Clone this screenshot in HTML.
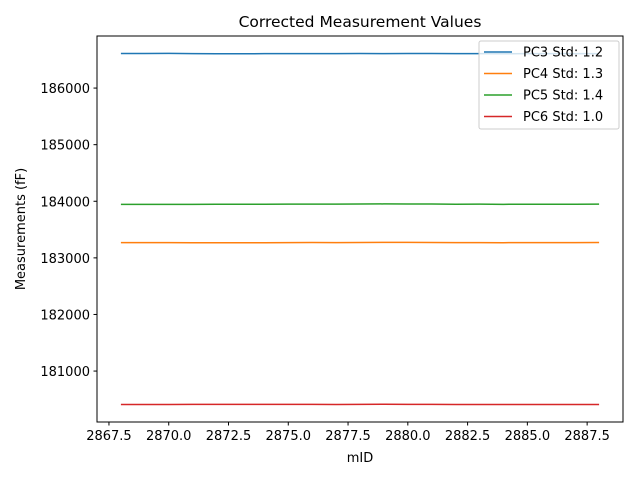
<!DOCTYPE html>
<html><head><meta charset="utf-8"><style>
body{margin:0;background:#fff}
svg text{font-family:"DejaVu Sans","Liberation Sans",sans-serif;fill:#000}
</style></head><body>
<svg width="640" height="480" xmlns="http://www.w3.org/2000/svg">
<rect width="640" height="480" fill="#fff"/>
<g id="plot"></g>
</svg>
<script>
const xs=[2868,2869,2870,2871,2872,2873,2874,2875,2876,2877,2878,2879,2880,2881,2882,2883,2884,2885,2886,2887,2888];
const pc3=[186610,186610,186612,186608,186606,186606,186608,186609,186608,186609,186610,186609,186610,186611,186609,186608,186607,186608,186609,186609,186609];
const pc4=[183270,183270,183269,183268,183267,183267,183268,183270,183271,183270,183272,183273,183273,183272,183270,183269,183268,183269,183270,183270,183272];
const pc5=[183945,183944,183945,183946,183947,183947,183948,183950,183950,183949,183951,183953,183952,183951,183948,183949,183946,183947,183948,183948,183950];
const pc6=[180410,180410,180410,180411,180412,180411,180411,180411,180411,180410,180411,180413,180412,180411,180409,180410,180410,180410,180410,180409,180410];
const seriesNames=["PC3 Std: 1.2","PC4 Std: 1.3","PC5 Std: 1.4","PC6 Std: 1.0"];
const xTicks=[2867.5,2870.0,2872.5,2875.0,2877.5,2880.0,2882.5,2885.0,2887.5];
const yTicks=[181000,182000,183000,184000,185000,186000];
const colors=["#1f77b4","#ff7f0e","#2ca02c","#d62728"];
const L=97,R=623,T=36,B=422;
const x0=2867,x1=2889,y0=180100,y1=186920;
const X=v=>L+(v-x0)/(x1-x0)*(R-L);
const Y=v=>B-(v-y0)/(y1-y0)*(B-T);
const NS="http://www.w3.org/2000/svg";
const g=document.getElementById('plot');
function mk(t,a,txt){const e=document.createElementNS(NS,t);for(const k in a)e.setAttribute(k,a[k]);if(txt!==undefined)e.textContent=txt;g.appendChild(e);return e;}
[pc3,pc4,pc5,pc6].forEach((s,i)=>{
 const p=mk('polyline',{points:s.map((v,j)=>X(xs[j])+','+Y(v)).join(' '),fill:'none',stroke:colors[i],'stroke-width':1.5});
 
 
});
const fr=mk('rect',{x:L,y:T,width:R-L,height:B-T,fill:'none',stroke:'#000','stroke-width':1});


xTicks.forEach(t=>{
 mk('line',{x1:X(t),x2:X(t),y1:B,y2:B+3.5,stroke:'#000'});
 const e=mk('text',{x:X(t),y:B+18,'font-size':13,'text-anchor':'middle'},t.toFixed(1));
 
 
});
yTicks.forEach(t=>{
 mk('line',{x1:L-3.5,x2:L,y1:Y(t),y2:Y(t),stroke:'#000'});
 const e=mk('text',{x:L-7,y:Y(t)+5,'font-size':13,'text-anchor':'end'},String(t));
 
 
});
let e=mk('text',{x:(L+R)/2,y:T-9,'font-size':15.5,'text-anchor':'middle'},'Corrected Measurement Values');


e=mk('text',{x:(L+R)/2,y:462,'font-size':13,'text-anchor':'middle'},'mID');


e=mk('text',{x:25,y:(T+B)/2,'font-size':13,'text-anchor':'middle',transform:'rotate(-90 25 '+((T+B)/2)+')'},'Measurements (fF)');


const lg=mk('rect',{x:479,y:41,width:140,height:88,fill:'#fff','fill-opacity':0.8,stroke:'#ccc',rx:2});


seriesNames.forEach((n,i)=>{
 const yy=52+i*21.5;
 mk('line',{x1:484,x2:512,y1:yy,y2:yy,stroke:colors[i],'stroke-width':1.5});
 const t=mk('text',{x:523,y:yy+4.5,'font-size':13},n);
 
 
});
</script>
</body></html>
